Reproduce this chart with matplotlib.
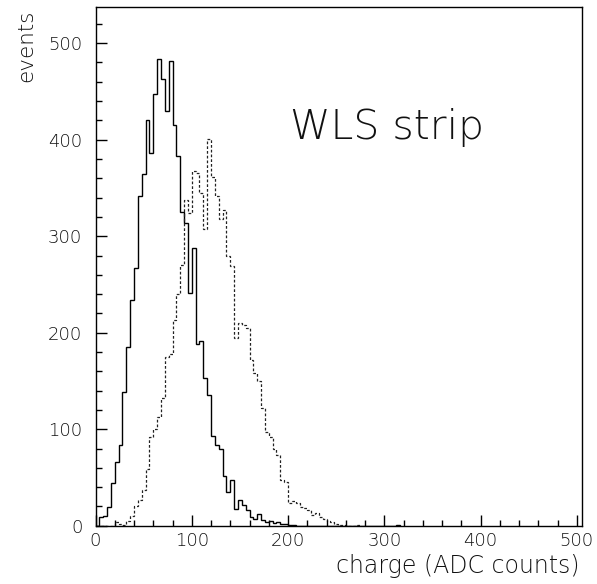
import matplotlib
matplotlib.use('Agg')
import matplotlib.pyplot as plt
import numpy as np

plt.rcParams['font.family'] = ['DejaVu Sans']
plt.rcParams['font.weight'] = 'light'

# histogram contents, 4 ADC-count bins starting at 0
bin_width = 4
solid_counts = [0, 9, 10, 19, 44, 66, 84, 139, 185, 234,
                267, 342, 364, 420, 386, 447, 484, 463, 430, 482,
                415, 383, 325, 314, 241, 288, 188, 191, 153, 135,
                93, 84, 79, 51, 35, 47, 17, 27, 21, 16,
                9, 7, 12, 6, 4, 5, 3, 4, 2, 2,
                1, 1, 0, 0, 0, 0, 0, 0, 0, 0,
                0, 0, 0, 0, 0, 0, 0, 0, 0, 0,
                0, 0, 0, 0, 0, 0, 0, 0, 1]
dashed_counts = [0, 0, 0, 0, 0, 4, 2, 1, 5, 10,
                 20, 27, 37, 59, 92, 100, 113, 132, 175, 178,
                 213, 240, 270, 337, 324, 368, 366, 345, 307, 401,
                 361, 342, 318, 327, 280, 269, 195, 210, 208, 205,
                 172, 158, 150, 122, 97, 92, 79, 73, 47, 45,
                 24, 26, 24, 19, 18, 16, 11, 13, 9, 7,
                 5, 4, 2, 1, 1, 0, 0, 0, 1]

x_ticks = [0, 100, 200, 300, 400, 500]
y_ticks = [0, 100, 200, 300, 400, 500]
text_color = '#111111'

fig = plt.figure(figsize=(5.97, 5.84), dpi=100)
ax = fig.add_axes([0.16, 0.0998, 0.815, 0.8887])

solid_edges = np.arange(len(solid_counts) + 1) * bin_width
dashed_edges = np.arange(len(dashed_counts) + 1) * bin_width
ax.stairs(solid_counts, solid_edges, color='black', linewidth=1.0)
ax.stairs(dashed_counts, dashed_edges, color='#222222', linewidth=0.9,
          linestyle=(0, (2.2, 1.6)))

ax.set_xlim(0, 505.5)
ax.set_ylim(0, 537.8)
ax.set_xticks(x_ticks)
ax.set_yticks(y_ticks)
ax.set_xticks(np.arange(0, 501, 20), minor=True)
ax.set_yticks(np.arange(0, 521, 20), minor=True)

ax.tick_params(which='both', direction='in', top=False, right=False,
               colors='black', width=1.0, labelsize=13)
ax.tick_params(which='major', length=7.9)
ax.tick_params(which='minor', length=4.6)
ax.tick_params(axis='y', pad=9.5)
ax.tick_params(axis='x', pad=4.5)
for lab in ax.get_xticklabels() + ax.get_yticklabels():
    lab.set_color(text_color)
for s in ax.spines.values():
    s.set_linewidth(1.0)

fig.text(580 / 597, 1 - 566 / 584, 'charge (ADC counts)', ha='right', va='center',
         fontsize=17, color=text_color)
fig.text(26 / 597, 1 - 46 / 584, 'events', rotation=90, ha='center', va='center',
         fontsize=15.5, color=text_color)
fig.text(290 / 597, 1 - 139 / 584, 'WLS strip', ha='left', va='baseline',
         fontsize=29.5, color=text_color)

fig.savefig('out.png', dpi=100)
